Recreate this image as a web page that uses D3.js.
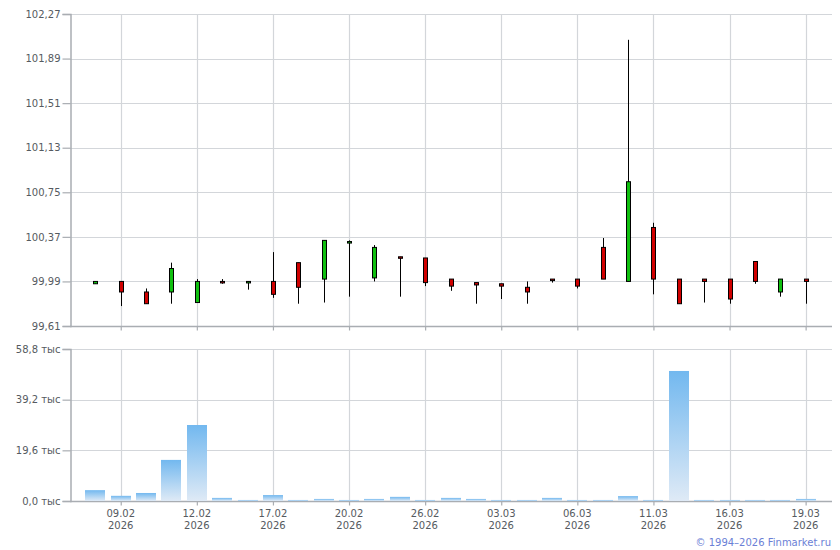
<!DOCTYPE html>
<html><head><meta charset="utf-8">
<script src="https://cdn.jsdelivr.net/npm/d3@7"></script>
<style>
body{margin:0;background:#fff;}
text{font-family:"DejaVu Sans",Verdana,sans-serif;}
</style></head>
<body><svg id="c" width="840" height="550"></svg>
<script>
const dates = ["06.02","09.02","10.02","11.02","12.02","13.02","16.02","17.02","18.02","19.02","20.02","24.02","25.02","26.02","27.02","02.03","03.03","04.03","05.03","06.03","09.03","10.03","11.03","12.03","13.03","16.03","17.03","18.03","19.03"];
const years = dates.map(() => "2026");
const openV  = [99.97,99.99,99.90,99.90,99.81,99.99,99.99,99.99,100.15,100.01,100.33,100.02,100.20,100.19,100.01,99.98,99.97,99.94,100.01,100.01,100.28,99.99,100.45,100.01,100.01,100.01,100.16,99.90,100.01];
const closeV = [99.99,99.90,99.80,100.10,99.99,99.98,99.99,99.88,99.94,100.34,100.33,100.28,100.19,99.98,99.95,99.96,99.95,99.90,100.00,99.95,100.01,100.84,100.01,99.80,99.99,99.84,99.99,100.01,99.99];
const highV  = [99.99,99.99,99.93,100.15,100.01,100.01,99.99,100.24,100.15,100.34,100.34,100.30,100.20,100.19,100.01,99.98,99.97,99.99,100.01,100.01,100.36,102.05,100.49,100.01,100.01,100.01,100.16,100.01,100.01];
const lowV   = [99.97,99.78,99.80,99.80,99.81,99.97,99.92,99.85,99.80,99.81,99.86,99.99,99.86,99.95,99.91,99.80,99.84,99.80,99.98,99.93,100.01,99.99,99.88,99.80,99.81,99.80,99.97,99.86,99.80];
const volumeK = [4.2,2.0,3.1,15.9,29.4,1.2,0.4,2.3,0.4,0.8,0.4,0.8,1.6,0.4,1.2,0.8,0.4,0.4,1.2,0.4,0.4,1.9,0.4,50.3,0.4,0.4,0.4,0.4,0.8];
const priceTicks = [99.61,99.99,100.37,100.75,101.13,101.51,101.89,102.27];
const volTicks = [0,19.6,39.2,58.8];
const labelDates = ["09.02","12.02","17.02","20.02","26.02","03.03","06.03","11.03","16.03","19.03"];

const svg = d3.select("#c");
const L = 70, R = 832;
const pTop = 14, pBot = 326, vTop = 349, vBot = 501;
const gridC = "#d3d6da", axisC = "#a9adb2", textC = "#555a60";
const fmt = v => v.toFixed(2).replace(".", ",");

const x = d3.scalePoint().domain(dates).range([L, R-1]).padding(1);
const y = d3.scaleLinear().domain([99.61, 102.27]).range([pBot, pTop]);
const yv = d3.scaleLinear().domain([0, 58.8]).range([vBot, vTop]);

const defs = svg.append("defs");
const grad = defs.append("linearGradient").attr("id","vg").attr("x1",0).attr("y1",0).attr("x2",0).attr("y2",1);
grad.append("stop").attr("offset","0%").attr("stop-color","#72b8ef");
grad.append("stop").attr("offset","100%").attr("stop-color","#dfeaf6");

function panel(yScale, ticks, top, bot, tf) {
  const g = svg.append("g");
  // horizontal grid
  g.selectAll(".hg").data(ticks).join("line")
    .attr("x1", L).attr("x2", R).attr("y1", d => Math.round(yScale(d))+0.5).attr("y2", d => Math.round(yScale(d))+0.5)
    .attr("stroke", gridC).attr("stroke-width", 1.2);
  // vertical grid
  g.selectAll(".vg").data(labelDates).join("line")
    .attr("x1", d => Math.round(x(d))+0.5).attr("x2", d => Math.round(x(d))+0.5).attr("y1", top).attr("y2", bot)
    .attr("stroke", gridC).attr("stroke-width", 1.2);
  // y axis
  const ya = d3.axisLeft(yScale).tickValues(ticks).tickFormat(tf).tickSize(8).tickPadding(2);
  const ag = svg.append("g").attr("transform", `translate(${L+0.5},0)`).call(ya);
  ag.select(".domain").attr("stroke", axisC).attr("stroke-width", 1.5);
  ag.selectAll(".tick line").attr("stroke", axisC).attr("stroke-width", 1.2);
  ag.selectAll("text").attr("fill", textC).style("font-size", "10px").style("font-family", '"DejaVu Sans",Verdana,sans-serif');
  // x axis
  const xa = d3.axisBottom(x).tickValues(labelDates).tickSize(4).tickFormat("");
  const xg = svg.append("g").attr("transform", `translate(0,${bot+0.5})`).call(xa);
  xg.select(".domain").attr("d", `M${L},0H${R}`).attr("stroke", axisC).attr("stroke-width", 1.5);
  xg.selectAll(".tick line").attr("stroke", axisC).attr("stroke-width", 1.2);
  return g;
}

panel(y, priceTicks, pTop, pBot, fmt);
panel(yv, volTicks, vTop, vBot, d => d.toFixed(1).replace(".", ",") + " тыс");

// date labels
const lab = svg.append("g");
labelDates.forEach(d => {
  const i = dates.indexOf(d);
  const t = lab.append("text").attr("x", x(d)).attr("text-anchor","middle").attr("fill", textC).style("font-size","10px");
  t.append("tspan").attr("x", x(d)).attr("y", 517).text(d);
  t.append("tspan").attr("x", x(d)).attr("y", 529).text(years[i]);
});

// candles
const bw = 4;
const cg = svg.append("g");
dates.forEach((d, i) => {
  const cx = Math.round(x(d)) + 0.5;
  cg.append("line").attr("x1", cx).attr("x2", cx).attr("y1", y(highV[i])).attr("y2", y(lowV[i]))
    .attr("stroke", "#000").attr("stroke-width", 1);
  const t = y(Math.max(openV[i], closeV[i])), b = y(Math.min(openV[i], closeV[i]));
  cg.append("rect").attr("x", cx - bw/2).attr("y", t).attr("width", bw).attr("height", Math.max(b - t, 1.5))
    .attr("fill", closeV[i] >= openV[i] ? "#10c010" : "#d00000").attr("stroke", "#000").attr("stroke-width", 1);
});

// volume bars
const bwv = 20;
svg.append("g").selectAll("rect").data(volumeK).join("rect")
  .attr("x", (v, i) => Math.round(x(dates[i]) - bwv/2))
  .attr("y", v => yv(v))
  .attr("width", bwv)
  .attr("height", v => vBot - yv(v))
  .attr("fill", "url(#vg)");

// copyright
svg.append("text").attr("x", 831).attr("y", 546).attr("text-anchor","end")
  .attr("fill", "#6b7fd6").style("font-size","10px").text("© 1994–2026 Finmarket.ru");
</script></body></html>
